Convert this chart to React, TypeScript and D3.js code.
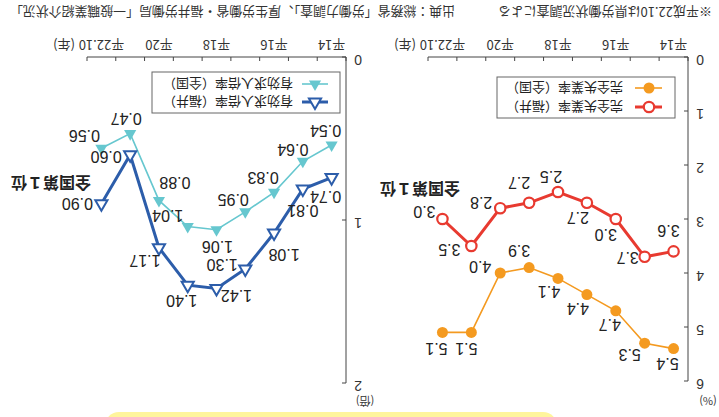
import React from 'react';
import * as d3 from 'd3';

const years = ['平14', '平15', '平16', '平17', '平18', '平19', '平20', '平21', '平22.10'];
const tickYears = ['平14', '平16', '平18', '平20', '平22.10'];
const unempFukui = [3.6, 3.7, 3.0, 2.7, 2.5, 2.7, 2.8, 3.5, 3.0];
const unempNational = [5.4, 5.3, 4.7, 4.4, 4.1, 3.9, 4.0, 5.1, 5.1];
const jobFukui = [0.74, 0.81, 1.08, 1.30, 1.42, 1.40, 1.17, 0.60, 0.90];
const jobNational = [0.54, 0.64, 0.83, 0.95, 1.06, 1.04, 0.88, 0.47, 0.56];
const unempTicks = [0, 1, 2, 3, 4, 5, 6];
const jobTicks = [0, 1, 2];

// label offsets (layout only)
const offUF = [[5, 21], [17, -1], [10, -15], [9, -15], [7, 16], [10, 20], [19, 6], [22, -3], [18, 8]];
const offUN = [[6, -15], [15, -11], [6, -14], [9, -14], [9, -13], [10, 17], [20, 7], [5, -16], [6, -16]];
const offJN = [[6, 15], [10, 12], [11, 15], [12, 12], [-1, -17], [20, 11], [-16, 18], [4, 15], [17, 13]];
const offJF = [[6, -19], [0, -21], [-10, -21], [23, 4], [-20, -7], [6, -15], [14, -13], [24, -2], [24, 0]];

const W = 719, H = 417;
const JP = '"Noto Sans CJK JP", sans-serif';
const NUM = '"Liberation Sans", Arial, sans-serif';

const RED = '#e83a30';
const ORANGE = '#f49a20';
const BLUE = '#2c5daa';
const CYAN = '#66c7cf';
const AXIS = '#444';

function Axes({ x, y, ticks, x0, x1 }: any) {
  const y0 = y(0);
  const yTop = y(ticks[ticks.length - 1]);
  const bounds = years.map((d) => x(d)).concat([x1]);
  return (
    <g>
      <line x1={x0} x2={x1} y1={y0} y2={y0} stroke={AXIS} strokeWidth={1} />
      <line x1={x0} x2={x0} y1={y0} y2={yTop} stroke={AXIS} strokeWidth={1} />
      {bounds.map((b: number, i: number) => (
        <line key={'xt' + i} x1={b} x2={b} y1={y0} y2={y0 - 4} stroke={AXIS} strokeWidth={1} />
      ))}
      {ticks.map((t: number) => (
        <g key={'yt' + t}>
          <line x1={x0} x2={x0 + 4} y1={y(t)} y2={y(t)} stroke={AXIS} strokeWidth={1} />
          <text x={x0 - 12} y={y(t) - 3} textAnchor="middle" dominantBaseline="central" fontSize={14} fontFamily={NUM} fill="#333">{t}</text>
        </g>
      ))}
      {tickYears.map((d) => (
        <text key={'xl' + d} x={x(d) + x.bandwidth() / 2} y={377} textAnchor="middle" fontSize={13} fontFamily={JP} fill="#333">{d}</text>
      ))}
      <text x={x1 + 23} y={377} textAnchor="middle" fontSize={13} fontFamily={JP} fill="#333">(年)</text>
    </g>
  );
}

function tri(cx: number, cy: number) {
  const p = d3.symbol(d3.symbolTriangle, 64)();
  return <path d={p as string} transform={`translate(${cx},${cy})`} />;
}

export default function App() {
  const xU = d3.scaleBand<string>().domain(years).range([31, 291]);
  const xJ = d3.scaleBand<string>().domain(years).range([373, 632]);
  const yU = d3.scaleLinear().domain([0, 6]).range([360, 36]);
  const yJ = d3.scaleLinear().domain([0, 2]).range([360, 34]);
  const cxU = (i: number) => (xU(years[i]) as number) + xU.bandwidth() / 2;
  const cxJ = (i: number) => (xJ(years[i]) as number) + xJ.bandwidth() / 2;

  const lineU = (vals: number[]) => d3.line<number>().x((_, i) => cxU(i)).y((v) => yU(v))(vals) as string;
  const lineJ = (vals: number[]) => d3.line<number>().x((_, i) => cxJ(i)).y((v) => yJ(v))(vals) as string;
  const f1 = d3.format('.1f');
  const f2 = d3.format('.2f');

  return (
    <svg width={W} height={H} style={{ position: 'absolute', left: 0, top: 0, background: '#fff' }}>
      <g transform={`rotate(180 ${W / 2} ${H / 2})`}>
        <rect x={0} y={0} width={W} height={H} fill="#fff" />
        {/* yellow box */}
        <rect x={162} y={-25} width={452} height={30} rx={14} fill="#fff59c" />

        {/* unit labels */}
        <text x={11} y={20} textAnchor="middle" fontSize={11} fontFamily={JP} fill="#333">(%)</text>
        <text x={354} y={20} textAnchor="middle" fontSize={11} fontFamily={JP} fill="#333">(倍)</text>

        {/* Unemployment chart */}
        <Axes x={xU} y={yU} ticks={unempTicks} x0={31} x1={291} />
        <path d={lineU(unempNational)} fill="none" stroke={ORANGE} strokeWidth={1.6} />
        <path d={lineU(unempFukui)} fill="none" stroke={RED} strokeWidth={3} />
        {unempNational.map((v, i) => (
          <circle key={'un' + i} cx={cxU(i)} cy={yU(v)} r={5.5} fill={ORANGE} />
        ))}
        {unempFukui.map((v, i) => (
          <circle key={'uf' + i} cx={cxU(i)} cy={yU(v)} r={5.2} fill="#fff" stroke={RED} strokeWidth={2.2} />
        ))}
        {unempNational.map((v, i) => (
          <text key={'unl' + i} x={cxU(i) + offUN[i][0]} y={yU(v) + offUN[i][1]} textAnchor="middle" dominantBaseline="central" fontSize={16} fontFamily={NUM} fill="#222">{f1(v)}</text>
        ))}
        {unempFukui.map((v, i) => (
          <text key={'ufl' + i} x={cxU(i) + offUF[i][0]} y={yU(v) + offUF[i][1]} textAnchor="middle" dominantBaseline="central" fontSize={16} fontFamily={NUM} fill="#222">{f1(v)}</text>
        ))}
        <text x={299} y={227} textAnchor="middle" dominantBaseline="central" fontSize={16} fontWeight="bold" fontFamily={JP} fill="#222">全国第１位</text>

        {/* Unemployment legend */}
        <rect x={44} y={299} width={178} height={41} fill="#fff" stroke="#666" strokeWidth={1} />
        <line x1={57} x2={84} y1={310} y2={310} stroke={RED} strokeWidth={3} />
        <circle cx={70} cy={310} r={5.2} fill="#fff" stroke={RED} strokeWidth={2.2} />
        <text x={96} y={310} dominantBaseline="central" fontSize={13} fontFamily={JP} fill="#222">完全失業率（福井）</text>
        <line x1={57} x2={84} y1={329} y2={329} stroke={ORANGE} strokeWidth={1.6} />
        <circle cx={70} cy={329} r={5.5} fill={ORANGE} />
        <text x={96} y={329} dominantBaseline="central" fontSize={13} fontFamily={JP} fill="#222">完全失業率（全国）</text>

        {/* Job-offer ratio chart */}
        <Axes x={xJ} y={yJ} ticks={jobTicks} x0={373} x1={632} />
        <path d={lineJ(jobNational)} fill="none" stroke={CYAN} strokeWidth={1.6} />
        <path d={lineJ(jobFukui)} fill="none" stroke={BLUE} strokeWidth={3} />
        <g fill={CYAN}>
          {jobNational.map((v, i) => <g key={'jn' + i}>{tri(cxJ(i), yJ(v))}</g>)}
        </g>
        <g fill="#fff" stroke={BLUE} strokeWidth={2}>
          {jobFukui.map((v, i) => <g key={'jf' + i}>{tri(cxJ(i), yJ(v))}</g>)}
        </g>
        {jobNational.map((v, i) => (
          <text key={'jnl' + i} x={cxJ(i) + offJN[i][0]} y={yJ(v) + offJN[i][1]} textAnchor="middle" dominantBaseline="central" fontSize={16} fontFamily={NUM} fill="#222">{f2(v)}</text>
        ))}
        {jobFukui.map((v, i) => (
          <text key={'jfl' + i} x={cxJ(i) + offJF[i][0]} y={yJ(v) + offJF[i][1]} textAnchor="middle" dominantBaseline="central" fontSize={16} fontFamily={NUM} fill="#222">{f2(v)}</text>
        ))}
        <text x={668} y={233} textAnchor="middle" dominantBaseline="central" fontSize={16} fontWeight="bold" fontFamily={JP} fill="#222">全国第１位</text>

        {/* Job legend */}
        <rect x={379} y={304} width={188} height={41} fill="#fff" stroke="#666" strokeWidth={1} />
        <line x1={391} x2={417} y1={315} y2={315} stroke={BLUE} strokeWidth={3} />
        <g fill="#fff" stroke={BLUE} strokeWidth={2}>{tri(404, 315)}</g>
        <text x={426} y={315} dominantBaseline="central" fontSize={13} fontFamily={JP} fill="#222">有効求人倍率（福井）</text>
        <line x1={391} x2={417} y1={333} y2={333} stroke={CYAN} strokeWidth={1.6} />
        <g fill={CYAN}>{tri(404, 333)}</g>
        <text x={426} y={333} dominantBaseline="central" fontSize={13} fontFamily={JP} fill="#222">有効求人倍率（全国）</text>

        {/* Notes */}
        <text x={7} y={405} dominantBaseline="central" fontSize={13} fontFamily={JP} fill="#333">※平成22.10は県労働状況調査による</text>
        <text x={264} y={405} dominantBaseline="central" fontSize={13} fontFamily={JP} fill="#333" textLength={445} lengthAdjust="spacingAndGlyphs">出典：総務省「労働力調査」、厚生労働省・福井労働局「一般職業紹介状況」</text>
      </g>
    </svg>
  );
}
